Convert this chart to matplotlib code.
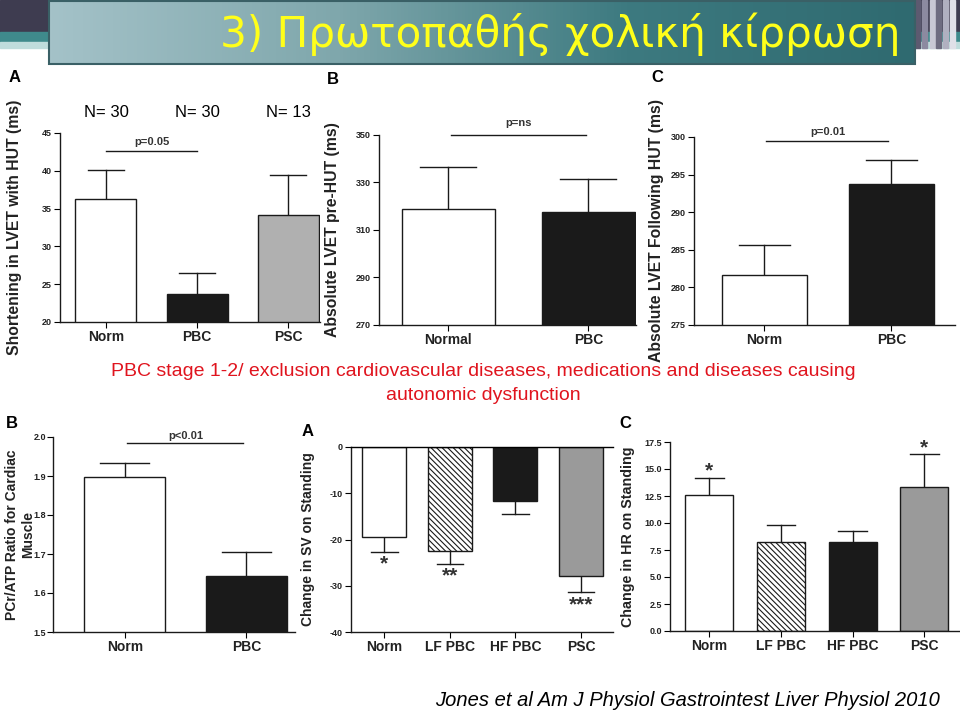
import matplotlib
matplotlib.use("Agg")
import matplotlib.pyplot as plt
import numpy as np
from matplotlib.colors import LinearSegmentedColormap

plt.rcParams['font.family'] = ['Liberation Sans', 'DejaVu Sans']
plt.rcParams['hatch.linewidth'] = 0.8

# ---- data ----
hut_groups = ['Norm', 'PBC', 'PSC']
hut_n = ['N= 30', 'N= 30', 'N= 13']
hut_mean = [36.3, 23.7, 34.2]
hut_err = [3.8, 2.8, 5.2]

pre_groups = ['Normal', 'PBC']
pre_mean = [319.0, 317.5]
pre_err = [17.5, 14.0]

post_groups = ['Norm', 'PBC']
post_mean = [281.6, 293.7]
post_err = [4.1, 3.2]

pcr_groups = ['Norm', 'PBC']
pcr_mean = [1.897, 1.643]
pcr_err = [0.036, 0.061]

sv_groups = ['Norm', 'LF PBC', 'HF PBC', 'PSC']
sv_mean = [-19.4, -22.4, -11.7, -27.9]
sv_err = [3.2, 2.8, 2.7, 3.5]
sv_stars = ['*', '**', '', '***']

hr_groups = ['Norm', 'LF PBC', 'HF PBC', 'PSC']
hr_mean = [12.6, 8.2, 8.2, 13.3]
hr_err = [1.6, 1.65, 1.1, 3.1]
hr_stars = ['*', '', '', '*']

colors4 = ['white', 'white', '#1a1a1a', '#9a9a9a']
hatch4 = ['', '\\\\\\\\\\\\', '', '']

W, H = 960, 714
fig = plt.figure(figsize=(9.6, 7.14), dpi=100)

# background axes in pixel coordinates
bg = fig.add_axes([0, 0, 1, 1])
bg.set_xlim(0, W)
bg.set_ylim(H, 0)
bg.axis('off')

# top strip
bg.add_patch(plt.Rectangle((0, 0), W, 32, color='#3e3c50', zorder=0))
bg.add_patch(plt.Rectangle((0, 32), W, 10, color='#3f8a8c', zorder=0))
bg.add_patch(plt.Rectangle((0, 42), W, 6, color='#bfdcdc', zorder=0))
for x0, c in [(915, '#5c5a70'), (922, '#8c8aa0'), (930, '#c8c8d4'),
              (936, '#6e6c80'), (943, '#b0b0c0'), (950, '#e0e0e8')]:
    bg.add_patch(plt.Rectangle((x0, 0), 5, 48, color=c, zorder=0))
cmap = LinearSegmentedColormap.from_list('ban', ['#a4c2c8', '#7fa7ac', '#3d7a80', '#2f6a70'])
bg.imshow(np.linspace(0, 1, 256)[None, :], extent=(49, 915, 64, 1), aspect='auto',
          cmap=cmap, zorder=1)
bg.add_patch(plt.Rectangle((49, 1), 866, 63, fill=False, ec='#3a6066', lw=1.5, zorder=2))
bg.text(900, 34, '3) Πρωτοπαθής χολική κίρρωση', color='#ffff1a', fontsize=30.3,
        ha='right', va='center', family=['DejaVu Sans'], zorder=3)

bg.text(483, 372, 'PBC stage 1-2/ exclusion cardiovascular diseases, medications and diseases causing',
        color='#e0141e', fontsize=14, ha='center', va='center')
bg.text(483, 396, 'autonomic dysfunction', color='#e0141e', fontsize=14, ha='center', va='center')
bg.text(940, 701, 'Jones et al Am J Physiol Gastrointest Liver Physiol 2010',
        fontsize=14.5, style='italic', ha='right', va='center')


def panel(box, groups, mean, err, colors, hatches, ylim, yticks, yfmt, xlim, ylabel,
          letter, letter_xy, label_x, label_size):
    x0, y0, x1, y1 = box
    ax = fig.add_axes([x0 / W, 1 - y1 / H, (x1 - x0) / W, (y1 - y0) / H])
    x = np.arange(len(groups))
    ax.bar(x, mean, 0.67, color=colors, edgecolor='#1a1a1a', linewidth=1.0,
           hatch=hatches, zorder=2)
    for xi, m, e in zip(x, mean, err):
        top = m + e if m >= 0 else m - e
        ax.plot([xi, xi], [m, top], color='#1a1a1a', lw=1.0, zorder=1)
        ax.plot([xi - 0.2, xi + 0.2], [top, top], color='#1a1a1a', lw=1.0, zorder=1)
    ax.set_xlim(*xlim)
    ax.set_ylim(*ylim)
    ax.set_yticks(yticks)
    ax.set_yticklabels([yfmt.format(v) for v in yticks])
    ax.set_xticks(x)
    ax.set_xticklabels(groups, fontsize=10, fontweight='bold', color='#222222')
    ax.tick_params(axis='y', labelsize=6.5, length=4, width=0.8, pad=2,
                   labelcolor='#222222')
    ax.tick_params(axis='x', length=4, width=0.8, pad=2)
    for lab in ax.get_yticklabels():
        lab.set_fontweight('bold')
    ax.spines['top'].set_visible(False)
    ax.spines['right'].set_visible(False)
    for s in ['left', 'bottom']:
        ax.spines[s].set_linewidth(1.0)
        ax.spines[s].set_color('#1a1a1a')
    ax.patch.set_alpha(0)
    bg.text(label_x, (y0 + y1) / 2, ylabel, rotation=90, ha='center', va='center',
            fontsize=label_size, fontweight='bold', color='#222222', linespacing=1.15)
    bg.text(letter_xy[0], letter_xy[1], letter, fontsize=12, fontweight='bold',
            ha='center', va='center')
    return ax


# top A
ax = panel((60, 133, 320, 322), hut_groups, hut_mean, hut_err,
           ['white', '#1a1a1a', '#b0b0b0'], ['', '', ''], (20, 45),
           [20, 25, 30, 35, 40, 45], '{:d}', (-0.505, 2.35),
           'Shortening in LVET with HUT (ms)', 'A', (15, 77), 15, 11.3)
ax.plot([0, 1], [42.65, 42.65], color='#1a1a1a', lw=1.0)
ax.text(0.5, 43.2, 'p=0.05', ha='center', va='bottom', fontsize=8,
        fontweight='bold', color='#333333')
for xi, t in enumerate(hut_n):
    ax.text(xi, 47.7, t, ha='center', va='center', fontsize=12, clip_on=False)

# top B
ax = panel((379, 135, 636, 325), pre_groups, pre_mean, pre_err,
           ['white', '#1a1a1a'], ['', ''], (270, 350), [270, 290, 310, 330, 350],
           '{:d}', (-0.496, 1.34), 'Absolute LVET pre-HUT (ms)', 'B', (333, 80), 333, 11.3)
ax.plot([0.02, 0.98], [350.2, 350.2], color='#1a1a1a', lw=1.0, clip_on=False)
ax.text(0.5, 353.0, 'p=ns', ha='center', va='bottom', fontsize=8,
        fontweight='bold', color='#333333')

# top C
ax = panel((694, 137, 955, 325), post_groups, post_mean, post_err,
           ['white', '#1a1a1a'], ['', ''], (275, 300), [275, 280, 285, 290, 295, 300],
           '{:d}', (-0.555, 1.5), 'Absolute LVET Following HUT (ms)', 'C', (657, 77), 657, 11.3)
ax.plot([0.01, 0.97], [299.5, 299.5], color='#1a1a1a', lw=1.0)
ax.text(0.5, 300.0, 'p=0.01', ha='center', va='bottom', fontsize=8,
        fontweight='bold', color='#333333')

# bottom B
ax = panel((53, 437, 295, 632), pcr_groups, pcr_mean, pcr_err,
           ['white', '#1a1a1a'], ['', ''], (1.5, 2.0), [1.5, 1.6, 1.7, 1.8, 1.9, 2.0],
           '{:.1f}', (-0.59, 1.40), 'PCr/ATP Ratio for Cardiac\nMuscle', 'B', (12, 424), 20, 10)
ax.tick_params(axis='y', pad=1)
ax.plot([0.02, 0.97], [1.985, 1.985], color='#1a1a1a', lw=1.0)
ax.text(0.5, 1.99, 'p<0.01', ha='center', va='bottom', fontsize=8,
        fontweight='bold', color='#333333')

# bottom A
ax = panel((351, 447, 613, 632), sv_groups, sv_mean, sv_err, colors4, hatch4,
           (-40, 0), [-40, -30, -20, -10, 0], '{:d}', (-0.51, 3.49),
           'Change in SV on Standing', 'A', (308, 432), 308, 10)
ax.spines['top'].set_visible(True)
ax.spines['top'].set_linewidth(1.0)
for xi, (m, e, s) in enumerate(zip(sv_mean, sv_err, sv_stars)):
    if s:
        ax.text(xi, m - e - 0.6, s, ha='center', va='top', fontsize=15,
                fontweight='bold', color='#333333')

# bottom C
ax = panel((670, 442, 960, 631), hr_groups, hr_mean, hr_err, colors4, hatch4,
           (0, 17.5), [0, 2.5, 5, 7.5, 10, 12.5, 15, 17.5], '{:.1f}', (-0.55, 3.5),
           'Change in HR on Standing', 'C', (625, 424), 628, 10.3)
for xi, (m, e, s) in enumerate(zip(hr_mean, hr_err, hr_stars)):
    if s:
        ax.text(xi, m + e - 0.3, s, ha='center', va='bottom', fontsize=15,
                fontweight='bold', color='#333333', clip_on=False)

fig.savefig('out.png', dpi=100)
